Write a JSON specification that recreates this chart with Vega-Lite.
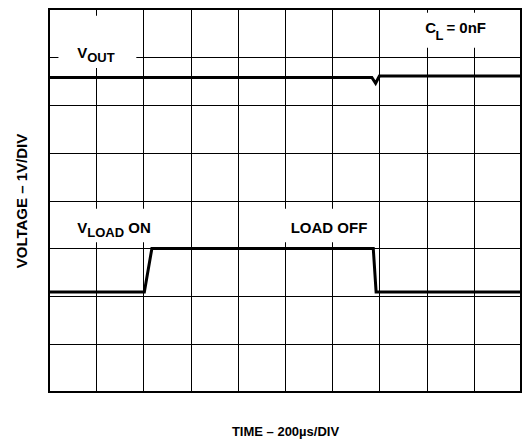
{
  "$schema": "https://vega.github.io/schema/vega-lite/v6.json",
  "width": 472,
  "height": 383,
  "autosize": "none",
  "padding": {"left": 49, "top": 9, "right": 10, "bottom": 48},
  "background": "white",
  "config": {
    "font": "Liberation Sans",
    "view": {"stroke": "black", "strokeWidth": 2},
    "axis": {"titleFont": "Liberation Sans", "titleFontWeight": "bold", "titleColor": "black"}
  },
  "datasets": {
    "traces": [
      {"t": 0, "v": 6.57, "s": "VOUT"},
      {"t": 6.84, "v": 6.57, "s": "VOUT"},
      {"t": 6.92, "v": 6.45, "s": "VOUT"},
      {"t": 7.0, "v": 6.6, "s": "VOUT"},
      {"t": 10, "v": 6.6, "s": "VOUT"},
      {"t": 0, "v": 2.09, "s": "VLOAD"},
      {"t": 2.02, "v": 2.09, "s": "VLOAD"},
      {"t": 2.18, "v": 3.0, "s": "VLOAD"},
      {"t": 6.87, "v": 3.0, "s": "VLOAD"},
      {"t": 6.93, "v": 2.09, "s": "VLOAD"},
      {"t": 10, "v": 2.09, "s": "VLOAD"}
    ],
    "boxes": [
      {"x1": 0.2, "x2": 1.85, "y1": 6.77, "y2": 7.86},
      {"x1": 7.66, "x2": 9.57, "y1": 7.19, "y2": 7.92},
      {"x1": 0.45, "x2": 2.26, "y1": 3.13, "y2": 3.83},
      {"x1": 5.0, "x2": 6.8, "y1": 3.13, "y2": 3.83}
    ],
    "labels": [
      {"x": 0.6, "y": 6.98, "text": "V", "role": "main"},
      {"x": 0.81, "y": 6.89, "text": "OUT", "role": "sub"},
      {"x": 7.97, "y": 7.49, "text": "C", "role": "main"},
      {"x": 8.19, "y": 7.36, "text": "L", "role": "sub"},
      {"x": 8.42, "y": 7.49, "text": "= 0nF", "role": "main"},
      {"x": 0.6, "y": 3.32, "text": "V", "role": "main"},
      {"x": 0.81, "y": 3.24, "text": "LOAD", "role": "sub"},
      {"x": 1.68, "y": 3.32, "text": "ON", "role": "main"},
      {"x": 5.12, "y": 3.32, "text": "LOAD OFF", "role": "main"}
    ]
  },
  "layer": [
    {
      "data": {"name": "boxes"},
      "mark": {"type": "rect", "fill": "white", "stroke": null},
      "encoding": {
        "x": {"field": "x1", "type": "quantitative", "scale": {"domain": [0, 10], "nice": false}, "axis": {"values": [0,1,2,3,4,5,6,7,8,9,10], "grid": true, "gridColor": "black", "gridWidth": 1, "gridOpacity": 1, "labels": false, "ticks": false, "domain": false, "title": "TIME – 200µs/DIV", "titleFontSize": 13, "titlePadding": 33}},
        "x2": {"field": "x2"},
        "y": {"field": "y1", "type": "quantitative", "scale": {"domain": [0, 8], "nice": false}, "axis": {"values": [0,1,2,3,4,5,6,7,8], "grid": true, "gridColor": "black", "gridWidth": 1, "gridOpacity": 1, "labels": false, "ticks": false, "domain": false, "title": "VOLTAGE – 1V/DIV", "titleFontSize": 15, "titlePadding": 20}},
        "y2": {"field": "y2"}
      }
    },
    {
      "data": {"name": "traces"},
      "mark": {"type": "line", "color": "black", "strokeWidth": 3, "strokeJoin": "miter"},
      "encoding": {
        "x": {"field": "t", "type": "quantitative"},
        "y": {"field": "v", "type": "quantitative"},
        "detail": {"field": "s"}
      }
    },
    {
      "data": {"name": "labels"},
      "transform": [{"filter": "datum.role == 'main'"}],
      "mark": {"type": "text", "align": "left", "baseline": "alphabetic", "fontSize": 15, "fontWeight": "bold", "color": "black", "font": "Liberation Sans"},
      "encoding": {
        "x": {"field": "x", "type": "quantitative"},
        "y": {"field": "y", "type": "quantitative"},
        "text": {"field": "text"}
      }
    },
    {
      "data": {"name": "labels"},
      "transform": [{"filter": "datum.role == 'sub'"}],
      "mark": {"type": "text", "align": "left", "baseline": "alphabetic", "fontSize": 13, "fontWeight": "bold", "color": "black", "font": "Liberation Sans"},
      "encoding": {
        "x": {"field": "x", "type": "quantitative"},
        "y": {"field": "y", "type": "quantitative"},
        "text": {"field": "text"}
      }
    }
  ]
}
